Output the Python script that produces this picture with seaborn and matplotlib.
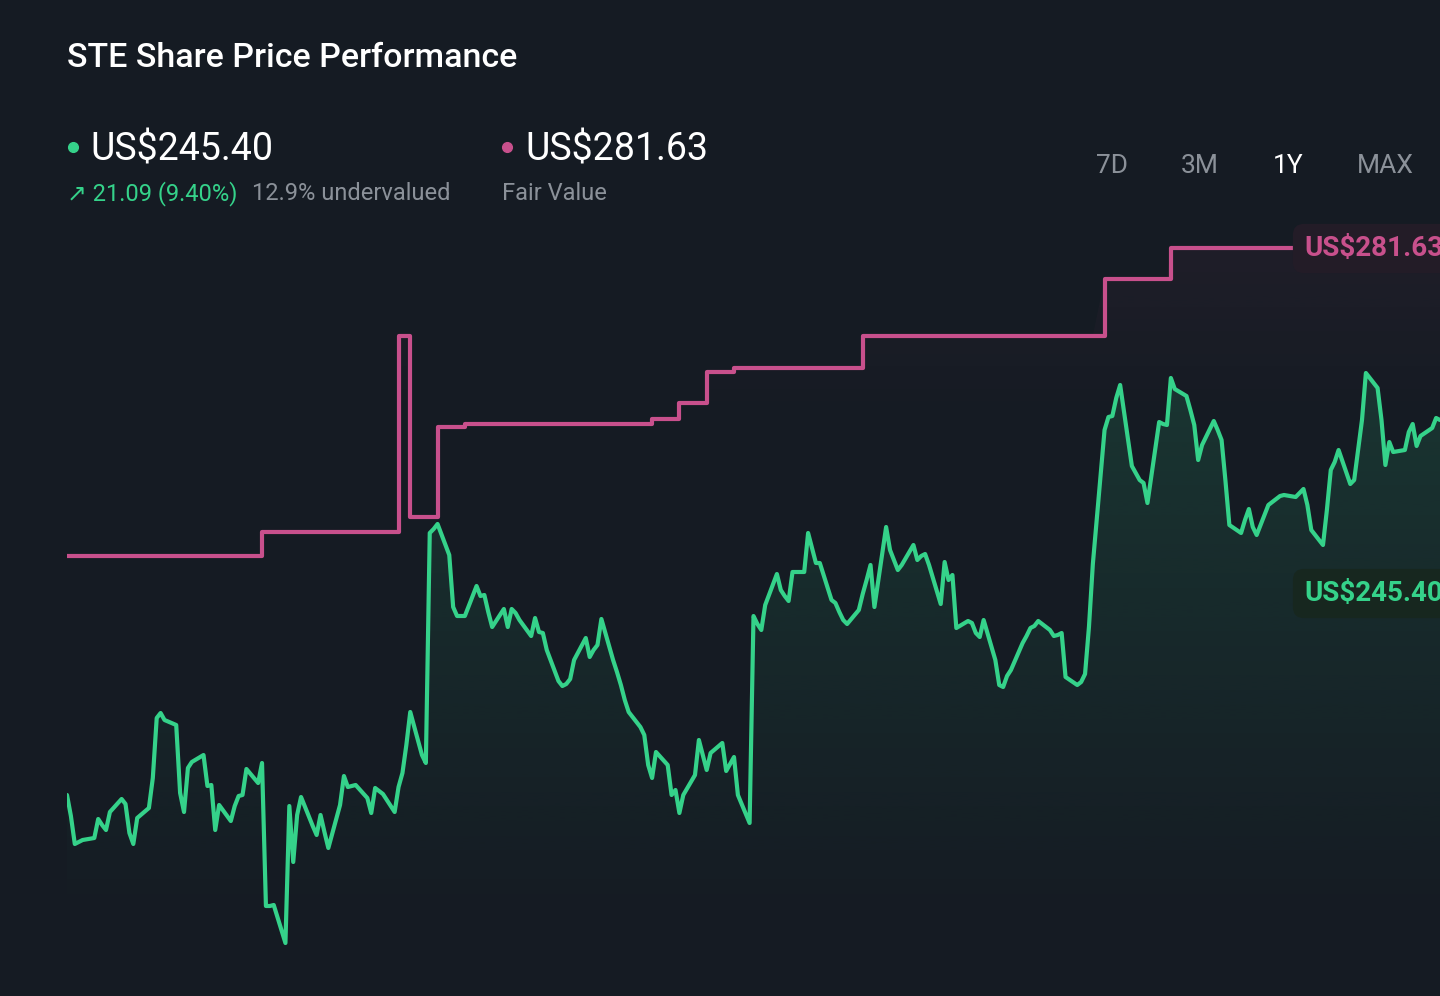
import numpy as np
import pandas as pd
import matplotlib
matplotlib.use("Agg")
import matplotlib.pyplot as plt
import matplotlib.dates as mdates
from matplotlib.lines import Line2D
import seaborn as sns

# daily closing price, one trading year
price = [
    226.9, 224.8, 222.0, 222.2, 222.4, 222.6, 224.5, 223.9, 223.4, 225.2,
    226.5, 226.0, 223.1, 222.0, 224.6, 225.6, 228.6, 234.6, 235.1, 234.4,
    233.9, 227.1, 225.2, 229.6, 230.2, 230.9, 227.8, 227.9, 223.4, 225.9,
    224.3, 225.8, 226.8, 226.9, 229.5, 228.1, 230.1, 215.8, 215.8, 215.9,
    212.1, 225.8, 220.2, 224.9, 226.7, 223.8, 222.9, 224.9, 223.2, 221.6,
    225.9, 228.8, 227.7, 227.8, 227.9, 226.6, 225.1, 227.6, 227.3, 227.0,
    225.2, 227.7, 229.1, 231.9, 235.2, 230.9, 230.1, 253.1, 253.5, 254.0,
    250.9, 245.7, 244.8, 244.8, 244.8, 247.8, 246.8, 246.9, 245.2, 243.7,
    245.5, 243.7, 245.5, 245.1, 244.4, 242.8, 244.6, 243.2, 243.1, 241.4,
    238.3, 237.8, 238.0, 238.5, 240.4, 242.6, 240.7, 241.4, 241.9, 244.5,
    240.4, 239.2, 237.9, 236.4, 235.2, 233.7, 232.9, 229.9, 228.6, 231.2,
    229.9, 226.9, 227.4, 225.1, 226.9, 228.9, 232.4, 230.9, 229.4, 231.1,
    232.1, 229.3, 230.0, 230.7, 226.9, 224.1, 244.8, 244.0, 243.4, 245.9,
    249.0, 247.4, 246.8, 246.3, 249.2, 249.2, 253.1, 251.6, 250.1, 250.1,
    246.4, 246.1, 245.2, 244.4, 244.0, 245.4, 247.0, 248.4, 249.9, 245.7,
    253.7, 251.4, 250.4, 249.4, 249.9, 251.9, 250.4, 250.8, 251.0, 249.9,
    246.0, 250.2, 248.4, 248.9, 243.6, 244.3, 244.1, 243.1, 242.7, 244.4,
    240.4, 237.9, 237.7, 238.8, 239.4, 242.1, 242.8, 243.6, 243.8, 244.3,
    243.4, 242.8, 242.9, 243.1, 238.7, 237.9, 238.2, 239.0, 243.7, 250.0,
    263.4, 264.7, 264.8, 266.6, 267.9, 259.8, 259.1, 258.4, 258.1, 256.1,
    264.2, 264.0, 263.9, 268.6, 267.5, 266.8, 265.4, 263.9, 260.4, 261.9,
    264.3, 263.4, 262.4, 258.3, 253.9, 253.1, 254.4, 255.5, 253.7, 252.9,
    255.9, 256.2, 256.5, 256.8, 256.9, 256.7, 257.1, 257.5, 255.9, 253.4,
    251.9, 255.4, 259.4, 260.2, 261.4, 258.0, 258.4, 261.4, 264.4, 269.1,
    267.6, 264.4, 259.9, 262.2, 261.2, 261.4, 263.2, 264.0, 261.8, 262.8,
    263.6, 264.6, 264.4,
]

# fair value estimate: trading day on which it changed, and new value
fv_change_day = [0, 36, 61, 64, 69, 74, 108, 113, 118, 123, 146, 190, 203]
fv_value = [250.8, 253.2, 272.8, 254.7, 263.7, 264.0, 264.5, 266.1, 269.2,
            269.6, 272.8, 278.5, 281.63]

timeframes = ["7D", "3M", "1Y", "MAX"]

BG = "#151b23"
GREEN = "#35d28a"
PINK = "#c8508c"
GREY = "#8b9199"

dates = pd.bdate_range("2023-07-10", periods=len(price))
df = pd.DataFrame({"date": dates, "price": price})
fv = pd.Series(fv_value, index=dates[fv_change_day]).reindex(dates).ffill()
df["fair_value"] = fv.values

sns.set_theme(style="dark")
plt.rcParams["font.family"] = ["Roboto", "DejaVu Sans"]

fig = plt.figure(figsize=(14.4, 9.96), dpi=100, facecolor=BG)
ax = fig.add_axes([67 / 1440, 0, 1373 / 1440, 1])
ax.set_facecolor(BG)
ymin, ymax = 206.8, 306.4
x0, x1 = mdates.date2num(dates[0]), mdates.date2num(dates[-1])


def gradient_under(y, color, a_top, y_top, y_fade, z):
    poly = ax.fill_between(df["date"], y, ymin, facecolor="none", edgecolor="none")
    rgb = matplotlib.colors.to_rgb(color)
    vals = np.linspace(y_top, ymin, 300)
    alpha = np.clip((vals - y_fade) / (y_top - y_fade), 0, 1) * a_top
    img = np.zeros((300, 1, 4))
    img[:, 0, :3] = rgb
    img[:, 0, 3] = alpha
    im = ax.imshow(img, extent=[x0, x1, ymin, y_top], aspect="auto",
                   origin="upper", zorder=z, interpolation="bilinear")
    im.set_clip_path(poly.get_paths()[0], transform=ax.transData)


gradient_under(df["fair_value"], PINK, 0.06, 282, 264, 0.5)
gradient_under(df["price"], GREEN, 0.15, 270, 214, 1)

sns.lineplot(data=df, x="date", y="fair_value", ax=ax, color=PINK,
             linewidth=3, drawstyle="steps-post", zorder=3)
sns.lineplot(data=df, x="date", y="price", ax=ax, color=GREEN,
             linewidth=3, zorder=4)
ax.set_ylim(ymin, ymax)
ax.set_xlim(dates[0], dates[-1])
ax.axis("off")


def fy(px):
    return 1 - px / 996


def fx(px):
    return px / 1440


fig.text(fx(67), fy(67), "STE Share Price Performance", color="white",
         fontsize=24.5, fontweight="medium", va="baseline")

fig.add_artist(Line2D([fx(73)], [fy(147)], marker="o", markersize=7,
                      color=GREEN, transform=fig.transFigure))
fig.text(fx(90), fy(161), "US$245.40", color="white", fontsize=27, va="baseline")
fig.text(fx(67), fy(200), "\u2197 21.09 (9.40%)", color=GREEN, fontsize=17,
         va="baseline")
fig.text(fx(252), fy(200), "12.9% undervalued", color=GREY, fontsize=17,
         va="baseline")

fig.add_artist(Line2D([fx(507)], [fy(147)], marker="o", markersize=7,
                      color=PINK, transform=fig.transFigure))
fig.text(fx(525), fy(161), "US$281.63", color="white", fontsize=27, va="baseline")
fig.text(fx(502), fy(200), "Fair Value", color=GREY, fontsize=17, va="baseline")

for label, xc in zip(timeframes, [1112, 1200, 1288, 1385]):
    fig.text(fx(xc), fy(173), label, color="white" if label == "1Y" else GREY,
             fontsize=19, ha="center", va="baseline")

fig.text(fx(1304), fy(256), "US$281.63", color=PINK, fontsize=20,
         fontweight="bold", va="baseline", zorder=10,
         bbox=dict(boxstyle="round,pad=0.4", facecolor="#231c27", edgecolor="none"))
fig.text(fx(1304), fy(601), "US$245.40", color=GREEN, fontsize=20,
         fontweight="bold", va="baseline", zorder=10,
         bbox=dict(boxstyle="round,pad=0.4", facecolor="#17271f", edgecolor="none"))

fig.savefig("out.png", dpi=100, facecolor=BG)
